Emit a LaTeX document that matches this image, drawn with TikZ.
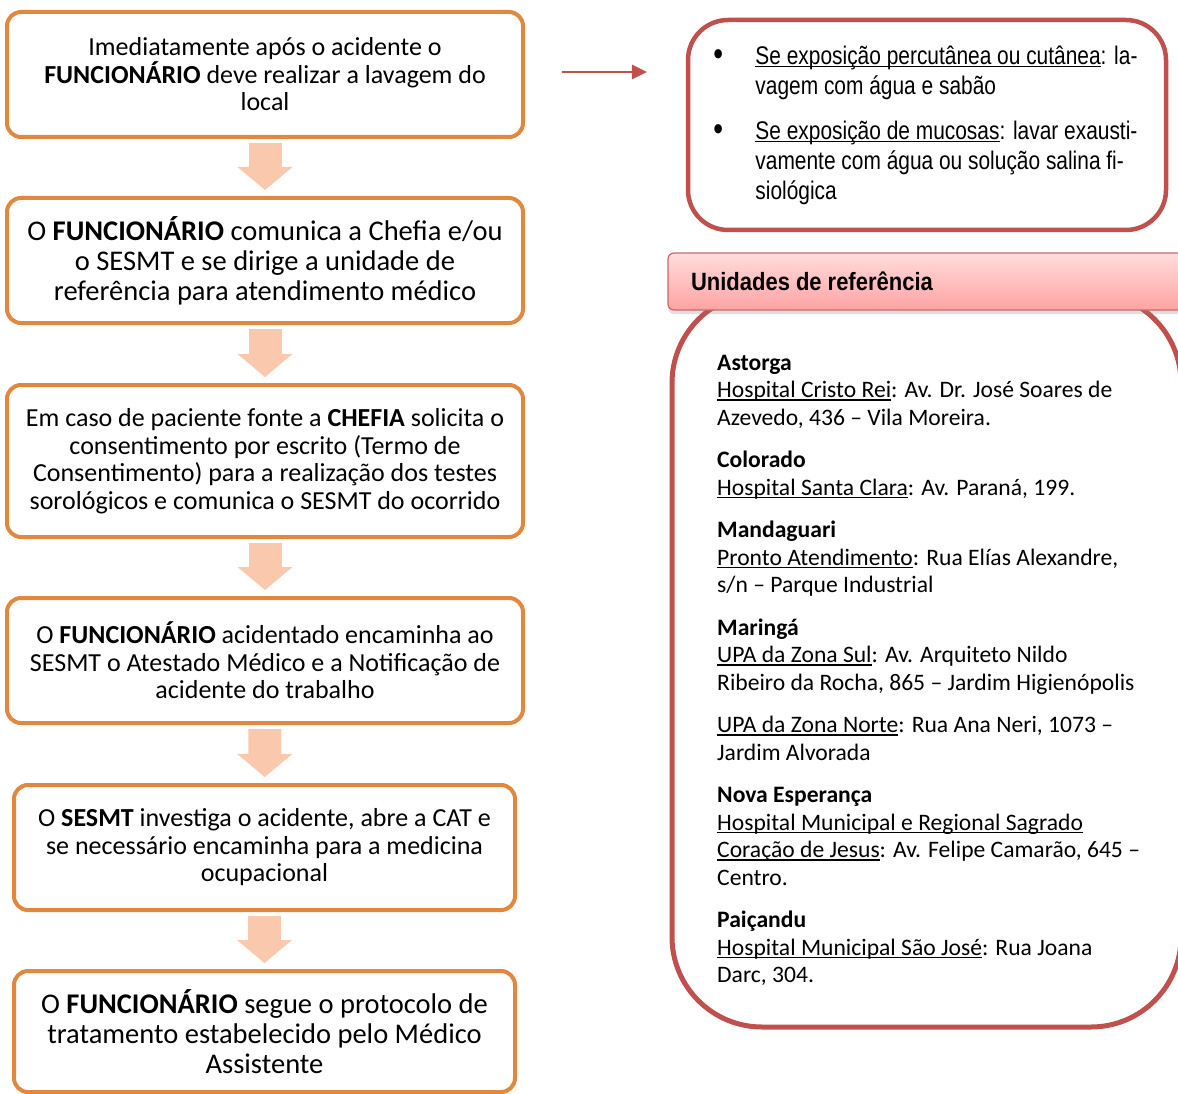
\documentclass[tikz,border=0pt]{standalone}
\usepackage{fontspec}
\setmainfont{Carlito}
\newfontfamily\narrowfont{Liberation Sans}[FakeStretch=0.82]
\newfontfamily\headfont{Liberation Sans Bold}[FakeStretch=0.88]
\usetikzlibrary{arrows.meta,shadows,calc}

\definecolor{boxorange}{RGB}{226,135,62}
\definecolor{arrowpeach}{RGB}{250,200,172}
\definecolor{accentred}{RGB}{192,80,77}
\definecolor{headtop}{RGB}{255,220,220}
\definecolor{headbottom}{RGB}{255,163,163}

\newcommand{\bulitem}{\makebox[39pt][l]{\hspace*{-3pt}\raisebox{-1.5pt}{\fontsize{34}{30}\selectfont\textbullet}}}
\newcommand{\ulref}[1]{\setbox0=\hbox{#1}\rlap{\rule[-3pt]{\wd0}{1.1pt}}\box0}

\tikzset{
  stepbox/.style={draw=boxorange, line width=4pt, rounded corners=14pt, fill=white, align=center, inner sep=0pt, minimum width=516pt, minimum height=125pt, font=\fontsize{26}{27.5}\selectfont},
  bigstep/.style={font=\fontsize{28.5}{30}\selectfont},
  blockarrow/.style={draw=arrowpeach, line width=33pt, -{Triangle[length=23pt,width=55pt,line width=0pt]}, shorten <=4pt, shorten >=6pt},
  redarrow/.style={draw=accentred, line width=2.5pt, -{Triangle[length=15pt,width=15pt,line width=0pt]}},
  expobox/.style={draw=accentred, line width=4.5pt, rounded corners=40pt, minimum width=478pt, minimum height=210pt, inner sep=0pt, align=left, font=\narrowfont\fontsize{25.5}{30}\selectfont},
  unitframe/.style={draw=accentred, line width=5pt, rounded corners=90pt, minimum width=509pt, minimum height=734pt, fill=white},
  headbar/.style={draw=accentred!85, line width=1.2pt, rounded corners=6pt, top color=headtop, bottom color=headbottom, drop shadow={shadow xshift=0pt, shadow yshift=-4pt, opacity=0.25}, minimum height=57pt, text width=476pt, inner xsep=23pt, align=left, font=\headfont\fontsize{25}{30}\selectfont},
  unittext/.style={inner sep=0pt, align=left, anchor=north west, font=\fontsize{23.6}{27.5}\selectfont}
}

\begin{document}
\begin{tikzpicture}[x=1pt,y=1pt,yscale=-1]
\useasboundingbox (0,0) rectangle (1178,1094);
\clip (0,0) rectangle (1178,1094);

%Flow boxes
\node[stepbox] (b1) at (265,74.5) {Imediatamente após o acidente o\\ \textbf{FUNCIONÁRIO} deve realizar a lavagem do\\ local};
\node[stepbox,bigstep] (b2) at (265,260.5) {O \textbf{FUNCIONÁRIO} comunica a Chefia e/ou\\ o SESMT e se dirige a unidade de\\ referência para atendimento médico};
\node[stepbox,minimum height=152pt] (b3) at (265,461) {Em caso de paciente fonte a \textbf{CHEFIA} solicita o\\ consentimento por escrito (Termo de\\ Consentimento) para a realização dos testes\\ sorológicos e comunica o SESMT do ocorrido};
\node[stepbox] (b4) at (265,660.5) {O \textbf{FUNCIONÁRIO} acidentado encaminha ao\\ SESMT o Atestado Médico e a Notificação de\\ acidente do trabalho};
\node[stepbox,minimum width=501pt] (b5) at (264.5,847.5) {O \textbf{SESMT} investiga o acidente, abre a CAT e\\ se necessário encaminha para a medicina\\ ocupacional};
\node[stepbox,bigstep,minimum width=501pt,minimum height=121pt] (b6) at (264.5,1031.5) {O \textbf{FUNCIONÁRIO} segue o protocolo de\\ tratamento estabelecido pelo Médico\\ Assistente};

%Block arrows
\foreach \a/\b in {b1/b2,b2/b3,b3/b4,b4/b5,b5/b6}
  \draw[blockarrow] (\a) -- (\b);

%Exposure box
\node[expobox] (expo) at (927,125) {\bulitem\ulref{Se exposição percutânea ou cutânea}: la-\\
\hspace*{39pt}vagem com água e sabão\\[15pt]
\bulitem\ulref{Se exposição de mucosas}: lavar exausti-\\
\hspace*{39pt}vamente com água ou solução salina fi-\\
\hspace*{39pt}siológica};
\draw[redarrow] ($(b1.east)+(37,-2.5)$) -- ($(expo.west |- b1.east)+(-39,-2.5)$);

%Reference units
\node[unitframe] (frame) at (926.5,660) {};
\node[headbar] (head) at (929,281.5) {Unidades\hspace{6pt}de\hspace{6pt}referência};
\node[unittext] (units) at ($(frame.north west)+(47.5,64)$) {\textbf{Astorga}\\
\ulref{Hospital Cristo Rei}: Av. Dr. José Soares de\\
Azevedo, 436 -- Vila Moreira.\\[15pt]
\textbf{Colorado}\\
\ulref{Hospital Santa Clara}: Av. Paraná, 199.\\[15pt]
\textbf{Mandaguari}\\
\ulref{Pronto Atendimento}: Rua Elías Alexandre,\\
s/n -- Parque Industrial\\[15pt]
\textbf{Maringá}\\
\ulref{UPA da Zona Sul}: Av. Arquiteto Nildo\\
Ribeiro da Rocha, 865 -- Jardim Higienópolis\\[15pt]
\ulref{UPA da Zona Norte}: Rua Ana Neri, 1073 --\\
Jardim Alvorada\\[15pt]
\textbf{Nova Esperança}\\
\ulref{Hospital Municipal e Regional Sagrado}\\
\ulref{Coração de Jesus}: Av. Felipe Camarão, 645 --\\
Centro.\\[15pt]
\textbf{Paiçandu}\\
\ulref{Hospital Municipal São José}: Rua Joana\\
Darc, 304.};

\end{tikzpicture}
\end{document}
